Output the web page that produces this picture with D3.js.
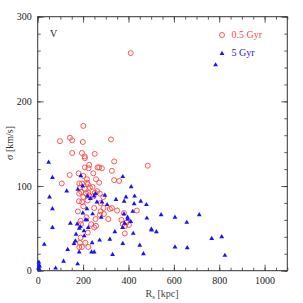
<!DOCTYPE html>
<html><head><meta charset="utf-8">
<script src="https://cdn.jsdelivr.net/npm/d3@7"></script>
<style>body{margin:0;background:#fff}svg{display:block}</style>
</head><body>
<svg id="c" width="303" height="303"></svg>
<script>
const redX=[410,201,142,152,98,199,323,152,195,251,207,208,337,485,227,224,208,264,271,327,141,180,201,245,257,217,271,337,359,106,183,186,207,230,242,218,195,213,192,223,262,252,274,226,201,289,246,277,182,220,183,196,290,277,249,318,327,350,437,177,201,274,292,380,369,311,255,215,189,191,236,257,249,375,391,402,385,384,221,189,186,210,195,183,223,283,221];
const redY=[257,171,157,154,153,152,155,139,139,138,135,133,129,124,125,121,122,122,122,118,113,115,112,115,108,108,104,107,106,103,103,98,97,98,99,104,103,91,93,92,94,92,91,89,87,87,88,80,82,83,91,81,74,70,74,73,74,71,71,70,76,66,67,68,60,61,61,63,59,55,55,53,51,55,57,54,53,44,45,39,33,33,28,28,28,121,102];
const blueX=[784,48,65,375,190,412,52,128,177,198,65,65,29,144,114,176,79,5,6,8,3,7,132,183,160,166,169,188,204,237,249,273,318,330,375,466,450,340,374,383,396,397,410,380,345,389,381,427,425,419,454,479,481,501,421,502,523,544,605,657,712,605,659,767,811,825,220,232,248,255,296,261,283,217,199,242,280,217,211,223,174,183,205,240,306];
const blueY=[243,128,110,111,112,99,87,94,96,100,73,51,31,56,11,8,3,10,7,5,3,2,25,22,32,35,43,52,47,22,22,36,37,19,32,20,30,46,51,56,63,61,58,67,84,87,82,88,79,70,82,78,62,49,44,48,46,66,63,57,66,28,27,38,40,18,88,85,88,91,89,81,81,73,68,67,63,60,60,51,55,50,41,33,78];
const xTicks=[0,200,400,600,800,1000];
const yTicks=[0,100,200,300];
const legendLabels=["0.5 Gyr","5 Gyr"];

const svg=d3.select("#c");
const L=37.7,R=287.3,T=16.7,B=270.7;
const x=d3.scaleLinear([0,1100],[L,R]);
const y=d3.scaleLinear([0,300],[B,T]);
const fc="#333";
const font="Liberation Serif, DejaVu Serif, serif";

// minor ticks
const xMinor=d3.range(0,1101,50), yMinor=d3.range(0,301,20);
function ax(axis,tr,vals,size,labels){
  const g=svg.append("g").attr("transform",tr)
    .call(axis.tickValues(vals).tickSize(size).tickPadding(6).tickFormat(labels?d3.format("d"):()=>""));
  g.select(".domain").remove();
  g.selectAll("line").attr("stroke",fc).attr("stroke-width",0.8);
  g.selectAll("text").attr("font-family",font).attr("font-size",10).attr("fill","#222");
  return g;
}
ax(d3.axisBottom(x),`translate(0,${B})`,xMinor,-3,false);
ax(d3.axisTop(x),`translate(0,${T})`,xMinor,-3,false);
ax(d3.axisLeft(y),`translate(${L},0)`,yMinor,-3,false);
ax(d3.axisRight(y),`translate(${R},0)`,yMinor,-3,false);
ax(d3.axisBottom(x),`translate(0,${B})`,xTicks,-6,true);
ax(d3.axisTop(x),`translate(0,${T})`,xTicks,-6,false);
ax(d3.axisLeft(y),`translate(${L},0)`,yTicks,-6,true);
ax(d3.axisRight(y),`translate(${R},0)`,yTicks,-6,false);

svg.append("rect").attr("x",L).attr("y",T).attr("width",R-L).attr("height",B-T)
  .attr("fill","none").attr("stroke",fc).attr("stroke-width",1);

const red="#ff4545", blue="#1515f5";
svg.append("g").selectAll("circle").data(redX.map((d,i)=>[d,redY[i]])).join("circle")
  .attr("cx",d=>x(d[0])).attr("cy",d=>y(d[1])).attr("r",2.5)
  .attr("fill","none").attr("stroke",red).attr("stroke-width",0.9);
const tri=d3.symbol(d3.symbolTriangle,10);
svg.append("g").selectAll("path").data(blueX.map((d,i)=>[d,blueY[i]])).join("path")
  .attr("d",tri).attr("transform",d=>`translate(${x(d[0])},${y(d[1])})`).attr("fill",blue);

// legend
svg.append("circle").attr("cx",222).attr("cy",35).attr("r",2.5).attr("fill","none").attr("stroke",red).attr("stroke-width",0.9);
svg.append("text").attr("x",231.5).attr("y",37.5).text(legendLabels[0]).attr("font-family",font).attr("font-size",10).attr("fill",red);
svg.append("path").attr("d",tri).attr("transform","translate(222,53.5)").attr("fill",blue);
svg.append("text").attr("x",231.5).attr("y",55.5).text(legendLabels[1]).attr("font-family",font).attr("font-size",10).attr("fill",blue);

svg.append("text").attr("x",53.5).attr("y",37).attr("text-anchor","middle").text("V")
  .attr("font-family",font).attr("font-size",10).attr("fill","#222");

const xl=svg.append("text").attr("x",162).attr("y",297).attr("text-anchor","middle")
  .attr("font-family",font).attr("font-size",10).attr("fill","#444");
xl.append("tspan").text("R");
xl.append("tspan").text("s").attr("font-size",7).attr("dy",2);
xl.append("tspan").text(" [kpc]").attr("dy",-2);

svg.append("text").attr("transform","translate(13,143) rotate(-90)").attr("text-anchor","middle")
  .attr("font-family",font).attr("font-size",10).attr("fill","#333").text("σ [km/s]");
</script>
</body></html>
